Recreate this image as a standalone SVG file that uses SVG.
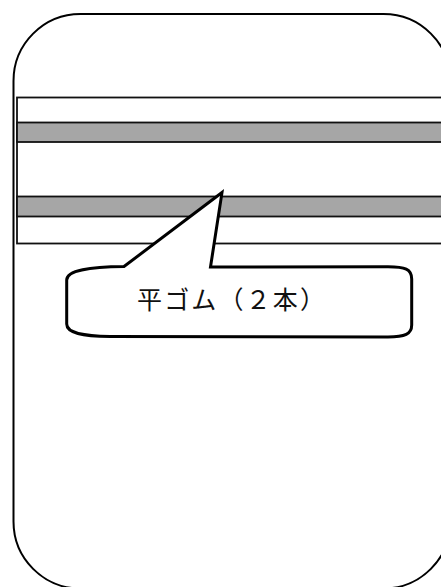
<svg xmlns="http://www.w3.org/2000/svg" width="441" height="587" viewBox="0 0 441 587">
<style>
.ln{fill:none;stroke:#000;stroke-width:2}
.band{fill:#a6a6a6;stroke:#111;stroke-width:1.8}
.frame{fill:#fff;stroke:#111;stroke-width:1.8}
.call{fill:#fff;stroke:#000;stroke-width:3;stroke-linejoin:miter}
.lbl{font-family:"Noto Sans CJK JP","Noto Sans",sans-serif;font-size:25px;fill:#111}
</style>
<rect width="441" height="587" fill="#fff"/>
<g id="outer">
<rect class="ln" x="13.5" y="14" width="437" height="574.5" rx="67" ry="67"/>
</g>
<g id="panel">
<rect class="frame" x="17" y="97.5" width="440" height="146"/>
<rect class="band" x="17" y="122.5" width="440" height="19.5"/>
<rect class="band" x="17" y="196.5" width="440" height="20"/>
</g>
<g id="callout">
<path class="call" d="M66.7 280 C66.7 270 90 267 124 266.5 L222 192.5 L210.5 267 L388 266.7 C405 266.7 411.7 269 411.7 279 L411.7 325 C411.7 334 405 337 388 337 L110 336.5 C82 336 66.7 333 66.7 324 Z"/>
<text class="lbl" x="137" y="309" textLength="188" lengthAdjust="spacing">平ゴム（２本）</text>
</g>
</svg>
